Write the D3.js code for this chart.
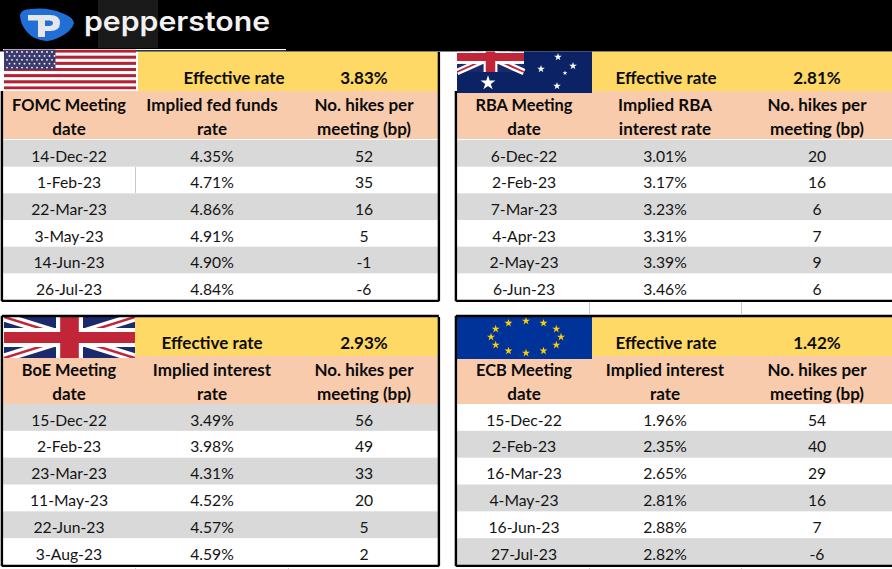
<!DOCTYPE html>
<html><head><meta charset="utf-8">
<script src="https://cdn.jsdelivr.net/npm/d3@7/dist/d3.min.js"></script>
<style>html,body{margin:0;padding:0;background:#fff}svg{display:block}text{font-family:Lato,"Open Sans",sans-serif}</style>
</head><body><svg id="c" width="892" height="569"></svg>
<script>
// ---- data ----
const usDates=["14-Dec-22","1-Feb-23","22-Mar-23","3-May-23","14-Jun-23","26-Jul-23"];
const usRates=["4.35%","4.71%","4.86%","4.91%","4.90%","4.84%"];
const usHikes=[52,35,16,5,-1,-6];
const auDates=["6-Dec-22","2-Feb-23","7-Mar-23","4-Apr-23","2-May-23","6-Jun-23"];
const auRates=["3.01%","3.17%","3.23%","3.31%","3.39%","3.46%"];
const auHikes=[20,16,6,7,9,6];
const ukDates=["15-Dec-22","2-Feb-23","23-Mar-23","11-May-23","22-Jun-23","3-Aug-23"];
const ukRates=["3.49%","3.98%","4.31%","4.52%","4.57%","4.59%"];
const ukHikes=[56,49,33,20,5,2];
const euDates=["15-Dec-22","2-Feb-23","16-Mar-23","4-May-23","16-Jun-23","27-Jul-23"];
const euRates=["1.96%","2.35%","2.65%","2.81%","2.88%","2.82%"];
const euHikes=[54,40,29,16,7,-6];
const effectiveLabel="Effective rate";
const hikesHeader=["No. hikes per","meeting (bp)"];

// ---- drawing ----
const svg=d3.select("#c");
const YEL="#FFD966",PEACH="#F8CBAD",GRAY="#D9D9D9",INK="#141414";
const rect=(g,x,y,w,h,f)=>g.append("rect").attr("x",x).attr("y",y).attr("width",w).attr("height",h).attr("fill",f);
const txt=(g,x,y,s,bold,size)=>g.append("text").attr("x",x).attr("y",y).attr("text-anchor","middle")
  .attr("font-size",size||(bold?17:15.7)).attr("font-weight",bold?700:400).attr("fill",bold?"#0c0c0c":INK).text(s);

// top band + logo
rect(svg,0,0,892,51.5,"#000");
rect(svg,98,0,60,48,"#1a1a1a");
rect(svg,3,49,283,1.2,"#fff");
svg.append("path").attr("fill","#1f6fd6")
  .attr("d","M20 15 Q21 9 31 9 Q48 7 62 13 Q73 17 74 23 Q72 31 60 37 Q52 41 46 41 Q34 40 27 32 Q20 24 20 15Z");
svg.append("path").attr("fill","#e4e6e8").attr("fill-rule","evenodd")
  .attr("d","M28 15 H50 Q60 15 60 23 Q60 31 50 31 H45 V37 H38 V20.5 H28Z M45 20.5 V26 H49 Q53 26 53 23 Q53 20.5 49 20.5Z");
svg.append("text").attr("x",84).attr("y",31).attr("font-size",27).attr("font-weight",600)
  .attr("textLength",186).attr("lengthAdjust","spacingAndGlyphs").attr("fill","#f2f2f2")
  .style("font-family","Inter").text("pepperstone");

function clip(id,x,y,w,h){
  svg.append("clipPath").attr("id",id).append("rect").attr("x",x).attr("y",y).attr("width",w).attr("height",h);
  return svg.append("g").attr("clip-path",`url(#${id})`);
}
function unionJack(g,x,y,w,h){
  rect(g,x,y,w,h,"#1a2a6c");
  const l=(x1,y1,x2,y2,c,sw)=>g.append("line").attr("x1",x1).attr("y1",y1).attr("x2",x2).attr("y2",y2).attr("stroke",c).attr("stroke-width",sw);
  const k=h/41, kx=w/131;
  l(x,y,x+w,y+h,"#fff",9*k);l(x+w,y,x,y+h,"#fff",9*k);
  l(x,y,x+w,y+h,"#c02638",2.6*k);l(x+w,y,x,y+h,"#c02638",2.6*k);
  rect(g,x+w/2-13.5*kx,y,27*kx,h,"#fff");rect(g,x,y+h/2-9.5*k,w,19*k,"#fff");
  rect(g,x+w/2-9.3*kx,y,18.6*kx,h,"#c02638");rect(g,x,y+h/2-5.5*k,w,11*k,"#c02638");
}
function star(g,cx,cy,r,c){
  g.append("path").attr("transform",`translate(${cx},${cy})`)
   .attr("d",d3.symbol(d3.symbolStar,Math.PI*r*r*0.3)()).attr("fill",c);
}
function flagUS(){
  const g=clip("fu",4,49.5,132,40);
  rect(g,4,49.5,132,40,"#fff");
  const ys=d3.scaleBand().domain(d3.range(13)).range([49.5,89.5]);
  ys.domain().filter(i=>i%2==0).forEach(i=>rect(g,4,ys(i),132,ys.bandwidth(),"#B22234"));
  rect(g,4,49.5,51.5,20,"#3C3B6E");
  d3.range(5).forEach(r=>d3.range(10).forEach(c=>{
    g.append("circle").attr("cx",7+c*5+(r%2?2.5:0)).attr("cy",52+r*3.9).attr("r",.9).attr("fill","#fff");
  }));
}
function flagAU(){
  const g=clip("fa",457,51.5,135,41.5);
  rect(g,457,51,135,42,"#0b2265");
  unionJack(g,457,42,67,30);
  star(g,488,83,8.5,"#fff");
  [[558,57],[573,66],[541,69],[557,86]].forEach(p=>star(g,p[0],p[1],4.4,"#fff"));
  star(g,565,73,2.8,"#fff");
}
function flagUK(){const g=clip("fk",4,317,131,41);unionJack(g,4,317,131,41);}
function flagEU(){
  const g=clip("fe",457,317,135,42);
  rect(g,457,317,135,42,"#003399");
  d3.range(12).forEach(i=>{const a=i*Math.PI/6;star(g,526+35*Math.sin(a),337-16*Math.cos(a),4.6,"#FFCC00");});
}

const panels=[
 {x:3,right:438,top:52,yelB:91,headB:139,rowT:140,rowB:300,col:[69,212,364],effX:234,eff:"3.83%",
  flagX:138,first:0,h0:"FOMC Meeting",h1:["Implied fed funds","rate"],dates:usDates,rates:usRates,hikes:usHikes,frame:false,flag:flagUS},
 {x:457,right:892,top:52,yelB:91,headB:139,rowT:140,rowB:300,col:[524,665,817],effX:666,eff:"2.81%",
  flagX:592,first:0,h0:"RBA Meeting",h1:["Implied RBA","interest rate"],dates:auDates,rates:auRates,hikes:auHikes,frame:false,flag:flagAU},
 {x:3,right:438,top:317,yelB:356,headB:404,rowT:404,rowB:565,col:[69,212,364],effX:212,eff:"2.93%",
  flagX:135,first:0,h0:"BoE Meeting",h1:["Implied interest","rate"],dates:ukDates,rates:ukRates,hikes:ukHikes,frame:true,flag:flagUK},
 {x:457,right:892,top:317,yelB:356,headB:404,rowT:404,rowB:565,col:[524,665,817],effX:666,eff:"1.42%",
  flagX:592,first:1,h0:"ECB Meeting",h1:["Implied interest","rate"],dates:euDates,rates:euRates,hikes:euHikes,frame:true,flag:flagEU}
];

panels.forEach(p=>{
  const g=svg.append("g");
  const w=p.right-p.x;
  rect(g,p.flagX,p.top,p.right-p.flagX,p.yelB-p.top,YEL);
  rect(g,p.x,p.yelB,w,p.headB-p.yelB,PEACH);
  const y=d3.scaleBand().domain(p.dates).range([p.rowT,p.rowB]);
  p.dates.forEach((d,i)=>{ if(i%2==p.first) rect(g,p.x,y(d),w,y.bandwidth(),GRAY); });
  p.flag();
  const base=p.yelB-7;
  txt(g,p.effX,base,effectiveLabel,true);
  txt(g,p.col[2],base,p.eff,true);
  const h1=p.yelB+19.5,h2=p.yelB+43.5;
  const c0=p.col[0];
  txt(g,c0,h1,p.h0,true,16.4);txt(g,c0,h2,"date",true);
  txt(g,p.col[1],h1,p.h1[0],true);txt(g,p.col[1],h2,p.h1[1],true);
  txt(g,p.col[2],h1,hikesHeader[0],true);txt(g,p.col[2],h2,hikesHeader[1],true);
  p.dates.forEach((d,i)=>{
    const b=y(d)+21.6;
    txt(g,c0,b,d,false);
    txt(g,p.col[1],b,p.rates[i],false);
    txt(g,p.col[2],b,p.hikes[i],false);
  });
  // frame
  const f=svg.append("g").attr("stroke","#000").attr("stroke-width",2.4);
  const ln=(a,b,c,d)=>f.append("line").attr("x1",a).attr("y1",b).attr("x2",c).attr("y2",d);
  const left=p.x-1.1;
  ln(left,p.frame?p.top-1.2:p.yelB,left,p.rowB+1.2);
  ln(left,p.rowB+.9,p.right<892?p.right+.9:892,p.rowB+.9);
  if(p.right<892) ln(p.right+.9,p.top,p.right+.9,p.rowB+1.2);
  if(p.frame) ln(left,p.top-1,p.right<892?p.right+.9:892,p.top-1);
});
// faint sheet gridlines
const gl=svg.append("g").attr("stroke","#c9c9c9").attr("stroke-width",1);
[[589.5,302,589.5,315],[741.5,302,741.5,315],[135.5,568,135.5,569],[288.5,568,288.5,569],[589.5,568,589.5,569],[741.5,568,741.5,569],[135.5,167,135.5,193]]
 .forEach(a=>gl.append("line").attr("x1",a[0]).attr("y1",a[1]).attr("x2",a[2]).attr("y2",a[3]));
</script></body></html>
